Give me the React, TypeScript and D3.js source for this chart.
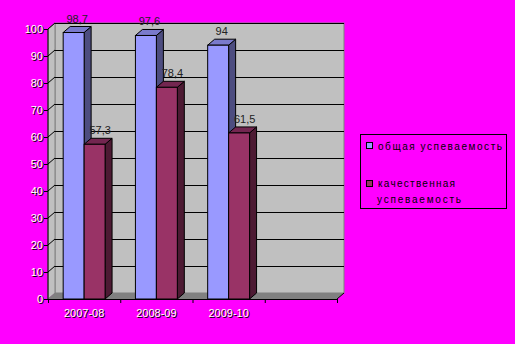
import React from "react";
import * as d3 from "d3";

const categories = ["2007-08", "2008-09", "2009-10", ""];
const seriesNames = ["общая успеваемость", "качественная успеваемость"];
const overall = [98.7, 97.6, 94];
const quality = [57.3, 78.4, 61.5];
const yTicks = [0, 10, 20, 30, 40, 50, 60, 70, 80, 90, 100];

const DX = 7;
const DY = -6;

export default function App() {
  const x = d3.scaleBand<string>().domain(categories).range([48, 337]).paddingInner(0).paddingOuter(0);
  const y = d3.scaleLinear().domain([0, 100]).range([299, 29]);
  const barW = x.bandwidth() * 0.29;
  const offset = x.bandwidth() * 0.21;

  const series = [
    { name: seriesNames[0], values: overall, front: "#9999FF", side: "#4D4D80", top: "#7A7ACC", labelShift: 14 },
    { name: seriesNames[1], values: quality, front: "#993366", side: "#4D1A33", top: "#732650", labelShift: 16 },
  ];

  const fmt = (v: number) => String(v).replace(".", ",");
  const font = "Liberation Sans, Arial, sans-serif";

  const x0 = x.range()[0];
  const x1 = x.range()[1];
  const y0 = y(0);
  const yTop = y(100);

  return (
    <svg width={515} height={344} style={{ position: "absolute", left: 0, top: 0, background: "#FF00FF" }}>
      <rect x={0} y={0} width={515} height={344} fill="#FF00FF" />
      {/* back wall */}
      <rect x={x0 + DX} y={yTop + DY} width={x1 - x0} height={y0 - yTop} fill="#C0C0C0" stroke="#808080" strokeWidth={1} />
      {/* left side wall */}
      <polygon
        points={`${x0},${y0} ${x0 + DX},${y0 + DY} ${x0 + DX},${yTop + DY} ${x0},${yTop}`}
        fill="#C0C0C0"
        stroke="#808080"
        strokeWidth={1}
      />
      {/* floor */}
      <polygon
        points={`${x0},${y0} ${x1},${y0} ${x1 + DX},${y0 + DY} ${x0 + DX},${y0 + DY}`}
        fill="#808080"
      />
      {/* gridlines */}
      {yTicks.filter((t) => t > 0).map((t) => (
        <g key={t}>
          <line x1={x0 + DX} x2={x1 + DX} y1={y(t) + DY + 0.5} y2={y(t) + DY + 0.5} stroke="#000" strokeWidth={1} />
          <line x1={x0} x2={x0 + DX} y1={y(t)} y2={y(t) + DY} stroke="#000" strokeWidth={1} />
        </g>
      ))}
      {/* bars */}
      {categories.slice(0, 3).map((c, i) =>
        series.map((s, si) => {
          const bx = (x(c) as number) + offset + si * barW;
          const v = s.values[i];
          const yt = y(v);
          return (
            <g key={c + si}>
              <polygon
                points={`${bx + barW},${y0} ${bx + barW + DX},${y0 + DY} ${bx + barW + DX},${yt + DY} ${bx + barW},${yt}`}
                fill={s.side}
                stroke="#000"
                strokeWidth={1}
              />
              <polygon
                points={`${bx},${yt} ${bx + DX},${yt + DY} ${bx + barW + DX},${yt + DY} ${bx + barW},${yt}`}
                fill={s.top}
                stroke="#000"
                strokeWidth={1}
              />
              <rect x={bx} y={yt} width={barW} height={y0 - yt} fill={s.front} stroke="#000" strokeWidth={1} />
              <text x={bx + s.labelShift} y={yt - 10} textAnchor="middle" fontFamily={font} fontSize={11} fill="#222">
                {fmt(v)}
              </text>
            </g>
          );
        })
      )}
      {/* axes */}
      <line x1={x0} x2={x0} y1={yTop} y2={y0} stroke="#000" strokeWidth={1} />
      <line x1={x0} x2={x1} y1={y0 + 0.5} y2={y0 + 0.5} stroke="#000" strokeWidth={1} />
      <line x1={x1} x2={x1 + DX} y1={y0} y2={y0 + DY} stroke="#000" strokeWidth={1} />
      {yTicks.map((t) => (
        <g key={"yt" + t}>
          <line x1={x0 - 4} x2={x0} y1={y(t) + 0.5} y2={y(t) + 0.5} stroke="#000" strokeWidth={1} />
          <text x={44} y={y(t) + 4.5} textAnchor="end" fontFamily={font} fontSize={11} fill="#000">{t}</text>
          <text x={43} y={y(t) + 3.5} textAnchor="end" fontFamily={font} fontSize={11} fill="#fff">{t}</text>
        </g>
      ))}
      {categories.map((c, i) => (
        <line key={"xt" + i} x1={(x(c) as number) + 0.5} x2={(x(c) as number) + 0.5} y1={y0} y2={y0 + 4} stroke="#000" strokeWidth={1} />
      ))}
      <line x1={x1 + 0.5} x2={x1 + 0.5} y1={y0} y2={y0 + 4} stroke="#000" strokeWidth={1} />
      {categories.slice(0, 3).map((c) => {
        const cx = (x(c) as number) + x.bandwidth() / 2;
        return (
          <g key={"xl" + c}>
            <text x={cx + 1} y={318} textAnchor="middle" fontFamily={font} fontSize={11} fill="#000">{c}</text>
            <text x={cx} y={317} textAnchor="middle" fontFamily={font} fontSize={11} fill="#fff">{c}</text>
          </g>
        );
      })}
      {/* legend */}
      <rect x={360.5} y={134.5} width={146} height={74} fill="none" stroke="#000" strokeWidth={1} />
      <rect x={366.5} y={142.5} width={6} height={6} fill={series[0].front} stroke="#000" strokeWidth={1} />
      <text x={378} y={150} fontFamily={font} fontSize={10} fill="#000" textLength={124} lengthAdjust="spacing">общая успеваемость</text>
      <rect x={366.5} y={180.5} width={6} height={6} fill={series[1].front} stroke="#000" strokeWidth={1} />
      <text x={378} y={187} fontFamily={font} fontSize={10} fill="#000" textLength={77} lengthAdjust="spacing">качественная</text>
      <text x={377} y={203} fontFamily={font} fontSize={10} fill="#000" textLength={84} lengthAdjust="spacing">успеваемость</text>
    </svg>
  );
}
